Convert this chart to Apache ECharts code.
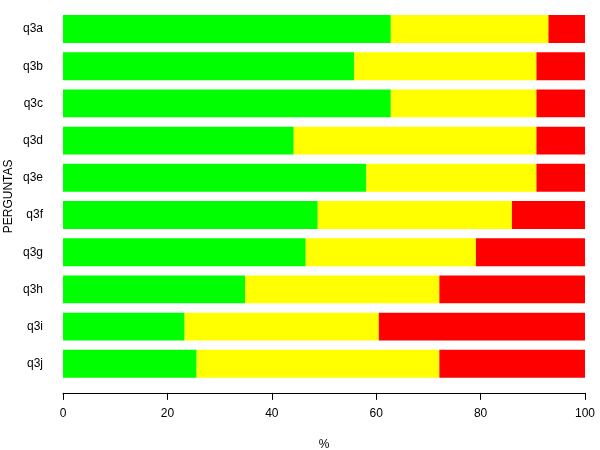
<!DOCTYPE html>
<html>
<head>
<meta charset="utf-8">
<script src="https://cdn.jsdelivr.net/npm/echarts@6/dist/echarts.min.js"></script>
<style>html,body{margin:0;padding:0;background:#fff;}#c{width:600px;height:450px;}</style>
</head>
<body>
<div id="c"></div>
<script>
var categories = ['q3a','q3b','q3c','q3d','q3e','q3f','q3g','q3h','q3i','q3j'];
var greenVals  = [62.8, 55.8, 62.8, 44.2, 58.1, 48.8, 46.5, 34.9, 23.3, 25.6];
var yellowVals = [30.2, 34.9, 27.9, 46.5, 32.6, 37.2, 32.6, 37.2, 37.2, 46.5];
var redVals    = [7.0, 9.3, 9.3, 9.3, 9.3, 14.0, 20.9, 27.9, 39.5, 27.9];
var xTicks = [0, 20, 40, 60, 80, 100];

var chart = echarts.init(document.getElementById('c'), null, {renderer: 'canvas'});
var font = 'Liberation Sans, Arial, sans-serif';
function mk(name, data, color) {
  return {
    name: name, type: 'bar', stack: 'total', data: data,
    barCategoryGap: '25%',
    itemStyle: {color: color},
    silent: true
  };
}
chart.setOption({
  animation: false,
  backgroundColor: '#ffffff',
  textStyle: {fontFamily: font},
  grid: {left: 63, right: 15, top: 10.4, bottom: 67.6, containLabel: false, outerBoundsMode: 'none'},
  xAxis: {
    type: 'value', min: xTicks[0], max: xTicks[xTicks.length - 1], interval: 20,
    offset: 10.5,
    name: '%', nameLocation: 'middle', nameGap: 46, nameMoveOverlap: false,
    nameTextStyle: {color: '#000', fontSize: 12, fontFamily: font},
    axisLine: {show: true, lineStyle: {color: '#000', width: 1}},
    axisTick: {show: true, length: 7, lineStyle: {color: '#000'}},
    axisLabel: {color: '#000', fontSize: 12, margin: 15, fontFamily: font},
    splitLine: {show: false}
  },
  yAxis: {
    type: 'category', data: categories, inverse: true,
    name: 'PERGUNTAS', nameLocation: 'middle', nameGap: 48, nameRotate: 90, nameMoveOverlap: false,
    nameTextStyle: {color: '#000', fontSize: 12, fontFamily: font},
    axisLine: {show: false}, axisTick: {show: false},
    axisLabel: {color: '#000', fontSize: 12, margin: 20, fontFamily: font}
  },
  series: [
    mk('verde', greenVals, '#00ff00'),
    mk('amarelo', yellowVals, '#ffff00'),
    mk('vermelho', redVals, '#ff0000')
  ]
});
</script>
</body>
</html>
